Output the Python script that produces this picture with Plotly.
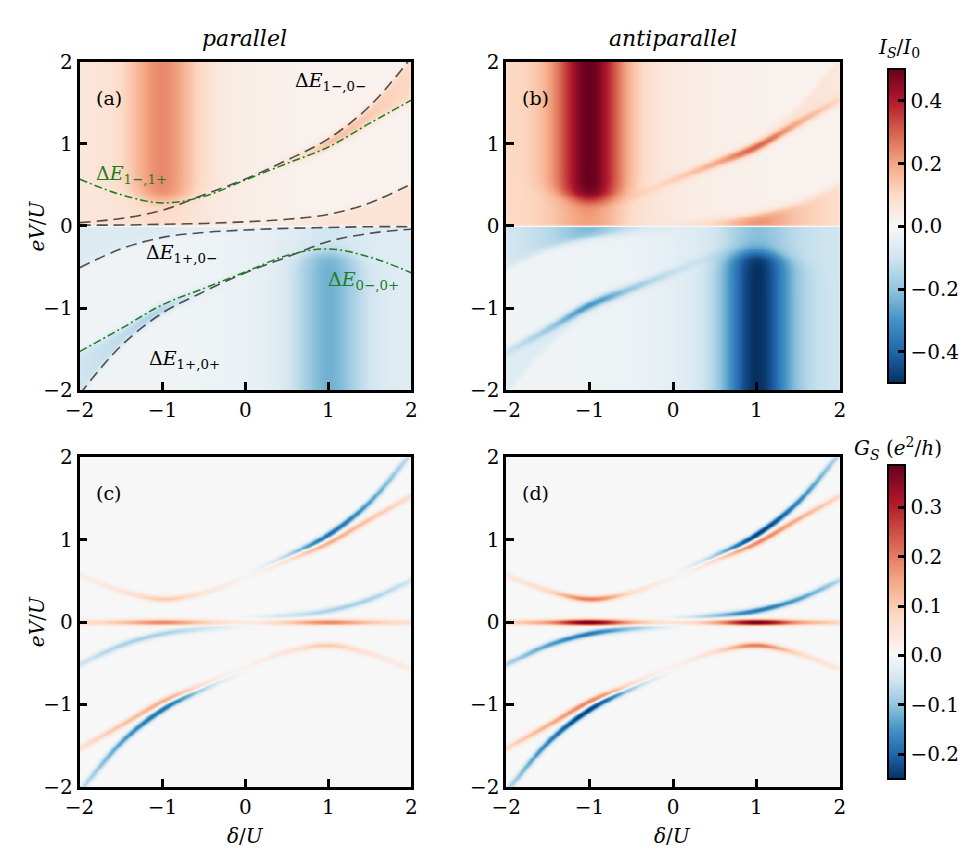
import numpy as np
import plotly.graph_objects as go

W, H = 975, 865
FONT = "DejaVu Serif"

# ---------------- data ----------------
delta_nodes = [-2.0, -1.5, -1.0, -0.5, 0.0, 0.5, 1.0, 1.5, 2.0]
# transition energies eV/U (upper branches); lower branches are point mirrors
dE_1m_0m = [0.04, 0.09, 0.19, 0.38, 0.57, 0.80, 1.06, 1.46, 2.05]   # ΔE_{1-,0-}
dE_1m_1p = [0.57, 0.38, 0.28, 0.36, 0.56, 0.76, 0.96, 1.25, 1.53]   # ΔE_{1-,1+}
dE_low   = [0.01, 0.01, 0.02, 0.03, 0.05, 0.08, 0.14, 0.28, 0.51]   # mirror of ΔE_{1+,0-}
dE_1p_0m = [-v for v in dE_low[::-1]]      # ΔE_{1+,0-}
dE_1p_0p = [-v for v in dE_1m_0m[::-1]]    # ΔE_{1+,0+}
dE_0m_0p = [-v for v in dE_1m_1p[::-1]]    # ΔE_{0-,0+}

# spin current I_S/I_0 (upper half; lower half is antisymmetric)
Ipar_base   = [0.06, 0.065, 0.07, 0.055, 0.035, 0.025, 0.02, 0.02, 0.02]
Ipar_fillAB = [0.0, 0.0, 0.0, 0.0, 0.02, 0.08, 0.16, 0.11, 0.08]
Ipar_fillC  = [0.0, 0.0, 0.0, 0.0, 0.01, 0.03, 0.05, 0.05, 0.05]
Ipar_ridgeB = [0.0] * 9
Ipar_band   = [0.17, 0.15]      # amplitude, fraction below ΔE_{1-,1+}

Iap_base   = [0.10, 0.11, 0.11, 0.08, 0.05, 0.03, 0.025, 0.02, 0.02]
Iap_fillAB = [0.0, 0.0, 0.0, 0.0, 0.0, 0.02, 0.04, 0.05, 0.04]
Iap_fillC  = [0.0, 0.0, 0.0, 0.0, 0.02, 0.09, 0.20, 0.12, 0.07]
Iap_ridgeB = [0.0, 0.0, 0.0, 0.02, 0.07, 0.15, 0.25, 0.14, 0.06]
Iap_band   = [0.39, 0.25]

# spin conductance G_S (e^2/h): ridge strengths along each line
Gpar_A = [0.0, 0.0, 0.0, -0.01, -0.04, -0.10, -0.19, -0.14, -0.06]
Gpar_B = [0.03, 0.05, 0.10, 0.06, 0.05, 0.09, 0.14, 0.11, 0.07]
Gpar_C = [0.0, 0.0, 0.0, 0.0, -0.01, -0.05, -0.08, -0.08, -0.05]
Gpar_0 = [0.06, 0.11, 0.19, 0.10, 0.04, 0.10, 0.19, 0.11, 0.06]

Gap_A = [0.0, 0.0, 0.0, -0.01, -0.05, -0.12, -0.24, -0.17, -0.07]
Gap_B = [0.04, 0.08, 0.20, 0.08, 0.06, 0.11, 0.19, 0.14, 0.08]
Gap_C = [0.0, 0.0, 0.0, 0.0, -0.02, -0.10, -0.18, -0.14, -0.08]
Gap_0 = [0.08, 0.17, 0.38, 0.15, 0.06, 0.15, 0.38, 0.17, 0.08]

axis_ticks = [-2, -1, 0, 1, 2]
I_ticks = [-0.4, -0.2, 0.0, 0.2, 0.4]
G_ticks = [-0.2, -0.1, 0.0, 0.1, 0.2, 0.3]
I_range = [-0.5, 0.5]
G_range = [-0.25, 0.385]

# ---------------- field construction ----------------
def smooth(yn, x):
    xn = np.asarray(delta_nodes, float)
    yn = np.asarray(yn, float)
    h = xn[1] - xn[0]
    ye = np.concatenate([[2 * yn[0] - yn[1]], yn, [2 * yn[-1] - yn[-2]]])
    i = np.clip(np.floor((x - xn[0]) / h).astype(int), 0, len(xn) - 2)
    t = (x - xn[i]) / h
    p0, p1, p2, p3 = ye[i], ye[i + 1], ye[i + 2], ye[i + 3]
    return 0.5 * (2 * p1 + (-p0 + p2) * t + (2 * p0 - 5 * p1 + 4 * p2 - p3) * t ** 2
                  + (-p0 + 3 * p1 - 3 * p2 + p3) * t ** 3)

def slope(yn, x, e=1e-3):
    return (smooth(yn, x + e) - smooth(yn, x - e)) / (2 * e)

def S(x):
    return 0.5 * (1 + np.tanh(x / 2))

N = 361
dgrid = np.linspace(-2, 2, N)
vgrid = np.linspace(-2, 2, N)
D, V = np.meshgrid(dgrid, vgrid)

def current_top(d, v, base, fillAB, fillC, ridgeB, band):
    A = smooth(dE_1m_0m, d)
    B = smooth(dE_1m_1p, d)
    C = smooth(dE_low, d)
    w = 0.025
    bnd = band[0] * np.exp(-((d + 1.0) / 0.40) ** 2)
    T = smooth(base, d)
    T = T + bnd * (band[1] + (1 - band[1]) * S((v - B - 0.04) / 0.045))
    T = T + smooth(fillAB, d) * S((v - B) / w) * S((A - v) / w)
    T = T + smooth(fillC, d) * S((C - v) / w)
    T = T + smooth(ridgeB, d) * np.exp(-((v - B) / 0.06) ** 2)
    return T

def current(base, fillAB, fillC, ridgeB, band):
    top = current_top(D, V, base, fillAB, fillC, ridgeB, band)
    bot = -current_top(-D, -V, base, fillAB, fillC, ridgeB, band)
    I = np.where(V >= 0, top, bot) * np.tanh(np.abs(V) / 0.012)
    return np.round(I, 4)

def ridges(d, v, gA, gB, gC):
    out = 0
    for arr, g in ((dE_1m_0m, gA), (dE_1m_1p, gB), (dE_low, gC)):
        c = smooth(arr, d)
        s = slope(arr, d)
        sig = 0.038 * np.sqrt(1 + s ** 2)
        out = out + smooth(g, d) * np.exp(-((v - c) / sig) ** 2)
    return out

def conductance(gA, gB, gC, g0):
    G = ridges(D, V, gA, gB, gC) + ridges(-D, -V, gA, gB, gC)
    G = G + smooth(g0, D) * np.exp(-(V / 0.035) ** 2)
    return np.round(G, 4)

Ipar = current(Ipar_base, Ipar_fillAB, Ipar_fillC, Ipar_ridgeB, Ipar_band)
Iap = current(Iap_base, Iap_fillAB, Iap_fillC, Iap_ridgeB, Iap_band)
Gpar = conductance(Gpar_A, Gpar_B, Gpar_C, Gpar_0)
Gap = conductance(Gap_A, Gap_B, Gap_C, Gap_0)

# ---------------- colours ----------------
rdbu = ['#053061', '#2166ac', '#4393c3', '#92c5de', '#d1e5f0', '#f7f7f7',
        '#fddbc7', '#f4a582', '#d6604d', '#b2182b', '#67001f']
cs_I = [[i / 10, c] for i, c in enumerate(rdbu)]
cmid = -G_range[0] / (G_range[1] - G_range[0])
cs_G = [[cmid * i / 5, rdbu[i]] for i in range(6)] + \
       [[cmid + (1 - cmid) * (i - 5) / 5, rdbu[i]] for i in range(6, 11)]

# ---------------- layout geometry (pixels) ----------------
def px(x):
    return x / W

def py(y):
    return 1 - y / H

panels = {
    'a': (66, 405, 51, 389),
    'b': (502, 843, 51, 389),
    'c': (66, 405, 458, 797),
    'd': (502, 843, 458, 797),
}

fig = go.Figure()

def cbar(ticks, ytop, ybot):
    return dict(x=px(892), xanchor='left', xpad=0, ypad=0,
                y=py((ytop + ybot) / 2), yanchor='middle', len=(ybot - ytop) / H,
                thickness=17, outlinewidth=2, outlinecolor='black',
                ticks='inside', ticklen=8, tickwidth=2.5, tickcolor='black',
                tickvals=ticks, tickformat='.1f', tickprefix=' ',
                tickfont=dict(size=20, family=FONT, color='black'))

fig.add_trace(go.Heatmap(x=dgrid, y=vgrid, z=Ipar, colorscale=cs_I, zmin=I_range[0], zmax=I_range[1],
                         showscale=False, xaxis='x', yaxis='y', hoverinfo='skip'))
fig.add_trace(go.Heatmap(x=dgrid, y=vgrid, z=Iap, colorscale=cs_I, zmin=I_range[0], zmax=I_range[1],
                         showscale=True, colorbar=cbar(I_ticks, 59, 382),
                         xaxis='x2', yaxis='y2', hoverinfo='skip'))
fig.add_trace(go.Heatmap(x=dgrid, y=vgrid, z=Gpar, colorscale=cs_G, zmin=G_range[0], zmax=G_range[1],
                         showscale=False, xaxis='x3', yaxis='y3', hoverinfo='skip'))
fig.add_trace(go.Heatmap(x=dgrid, y=vgrid, z=Gap, colorscale=cs_G, zmin=G_range[0], zmax=G_range[1],
                         showscale=True, colorbar=cbar(G_ticks, 466, 789),
                         xaxis='x4', yaxis='y4', hoverinfo='skip'))

gray = 'rgba(60,60,60,0.9)'
green = 'rgb(30,125,30)'
for arr in (dE_1m_0m, dE_low, dE_1p_0m, dE_1p_0p):
    fig.add_trace(go.Scatter(x=delta_nodes, y=arr, mode='lines',
                             line=dict(color=gray, width=1.6, dash='11px,6px', shape='spline', smoothing=1.0),
                             xaxis='x', yaxis='y', hoverinfo='skip', showlegend=False))
for arr in (dE_1m_1p, dE_0m_0p):
    fig.add_trace(go.Scatter(x=delta_nodes, y=arr, mode='lines',
                             line=dict(color=green, width=1.5, dash='8px,3px,2px,3px', shape='spline', smoothing=1.0),
                             xaxis='x', yaxis='y', hoverinfo='skip', showlegend=False))

def axis(dom, anchor):
    return dict(domain=dom, anchor=anchor, range=[-2, 2], tickvals=axis_ticks,
                ticks='inside', ticklen=8, tickwidth=2.5, tickcolor='black',
                showline=True, linewidth=2.5, linecolor='black', mirror=True,
                showgrid=False, zeroline=False,
                tickfont=dict(size=20, family=FONT, color='black'))

lay = {}
names = ['a', 'b', 'c', 'd']
for k, nm in enumerate(names):
    x0, x1, y0, y1 = panels[nm]
    sfx = '' if k == 0 else str(k + 1)
    lay['xaxis' + sfx] = axis([px(x0), px(x1)], 'y' + sfx)
    lay['yaxis' + sfx] = axis([py(y1), py(y0)], 'x' + sfx)

fig.update_layout(width=W, height=H, margin=dict(l=0, r=0, t=0, b=0),
                  font=dict(family=FONT, size=20, color='black'),
                  paper_bgcolor='white', plot_bgcolor='white', showlegend=False, **lay)

ann = []
def text(x, y, s, size=20, color='black', angle=0):
    ann.append(dict(x=px(x), y=py(y), xref='paper', yref='paper', text=s, showarrow=False,
                    font=dict(size=size, family=FONT, color=color), textangle=angle,
                    xanchor='center', yanchor='middle'))

text(235, 27, '<i>parallel</i>', 22)
text(672, 27, '<i>antiparallel</i>', 22)
text(903, 37, '<i>I<sub>S</sub></i>/<i>I</i><sub>0</sub>', 20)
text(902, 449, '<i>G<sub>S</sub></i> (<i>e</i><sup>2</sup>/<i>h</i>)', 20)
text(22, 220, '<i>eV</i>/<i>U</i>', 20, angle=-90)
text(22, 627, '<i>eV</i>/<i>U</i>', 20, angle=-90)
text(236, 848, '<i>δ</i>/<i>U</i>', 20)
text(672, 848, '<i>δ</i>/<i>U</i>', 20)
for nm in names:
    x0, x1, y0, y1 = panels[nm]
    text(x0 + 30, y0 + 37, '(%s)' % nm, 19)

text(322, 71, 'Δ<i>E</i><sub>1−,0−</sub>', 19)
text(119, 167, 'Δ<i>E</i><sub>1−,1+</sub>', 19, green)
text(170, 248, 'Δ<i>E</i><sub>1+,0−</sub>', 19)
text(356, 276, 'Δ<i>E</i><sub>0−,0+</sub>', 19, green)
text(173, 357, 'Δ<i>E</i><sub>1+,0+</sub>', 19)

fig.update_layout(annotations=ann)
fig.write_html("out.html")
